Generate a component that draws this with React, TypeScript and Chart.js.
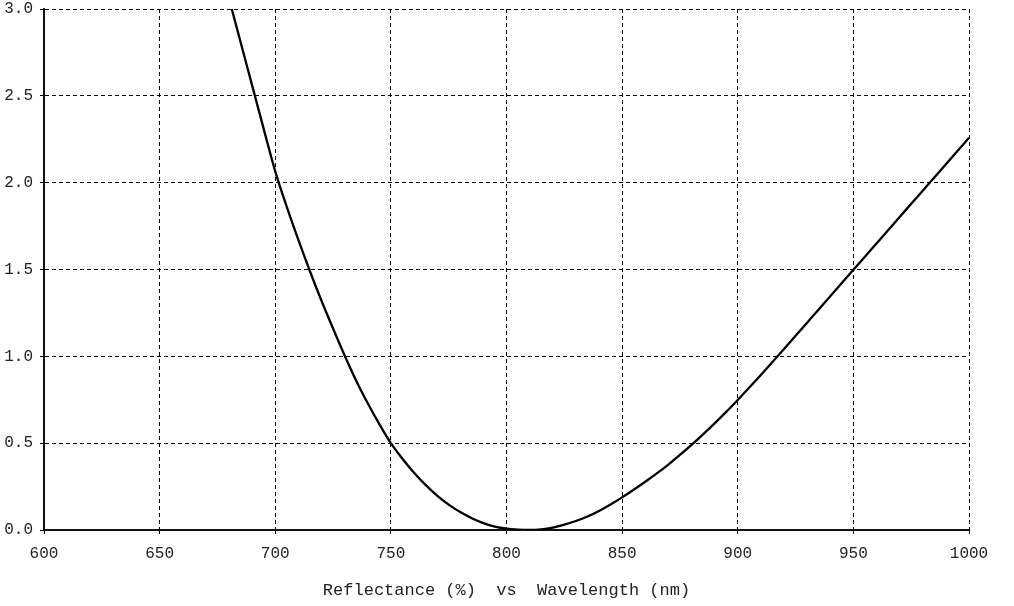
import React, { useEffect, useRef } from "react";
import { Chart, registerables } from "chart.js";

Chart.register(...registerables);

const wavelengths = [
  680, 685, 690, 695, 700, 705, 710, 715, 720, 725, 730, 735, 740, 745, 750,
  755, 760, 765, 770, 775, 780, 785, 790, 795, 800, 805, 810, 815, 820, 825,
  830, 835, 840, 845, 850, 855, 860, 865, 870, 875, 880, 885, 890, 895, 900,
  905, 910, 915, 920, 925, 930, 935, 940, 945, 950, 955, 960, 965, 970, 975,
  980, 985, 990, 995, 1000,
];

const reflectance = [
  3.06, 2.81, 2.56, 2.31, 2.065, 1.86, 1.67, 1.49, 1.32, 1.16, 1.005, 0.86,
  0.73, 0.61, 0.5, 0.41, 0.33, 0.26, 0.198, 0.146, 0.103, 0.068, 0.04, 0.02,
  0.008, 0.002, 0.0, 0.004, 0.014, 0.031, 0.052, 0.078, 0.11, 0.147, 0.188,
  0.232, 0.278, 0.326, 0.377, 0.432, 0.49, 0.551, 0.614, 0.68, 0.749, 0.82,
  0.893, 0.967, 1.042, 1.118, 1.194, 1.27, 1.346, 1.422, 1.498, 1.574, 1.65,
  1.726, 1.802, 1.878, 1.954, 2.03, 2.106, 2.182, 2.258,
];

const xTitle = "Reflectance (%)  vs  Wavelength (nm)";
const xMin = 600;
const xMax = 1000;
const xStep = 50;
const yMin = 0;
const yMax = 3;
const yStep = 0.5;

const FONT = "'Courier New', 'Liberation Mono', monospace";

export default function App() {
  const ref = useRef<HTMLCanvasElement | null>(null);

  useEffect(() => {
    document.body.style.margin = "0";
    const canvas = ref.current;
    if (!canvas) return;
    const chart = new Chart(canvas, {
      type: "line",
      data: {
        datasets: [
          {
            data: wavelengths.map((w, i) => ({ x: w, y: reflectance[i] })),
            borderColor: "#000",
            borderWidth: 2.3,
            pointRadius: 0,
            cubicInterpolationMode: "monotone",
            fill: false,
            clip: 0,
          },
        ],
      },
      options: {
        animation: false,
        responsive: false,
        maintainAspectRatio: false,
        layout: { padding: { top: 9, right: 45, left: 0, bottom: 0 } },
        plugins: { legend: { display: false }, tooltip: { enabled: false } },
        scales: {
          x: {
            type: "linear",
            min: xMin,
            max: xMax,
            afterFit: (s: any) => {
              s.height = 76;
            },
            ticks: {
              stepSize: xStep,
              autoSkip: false,
              maxRotation: 0,
              color: "#222",
              padding: 11,
              font: { family: FONT, size: 16, lineHeight: 1.1 },
              callback: (v: any) => String(v),
            },
            grid: {
              color: "#000",
              lineWidth: 1,
              tickLength: 4,
              tickColor: "#000",
              tickBorderDash: [],
            },
            border: { display: true, color: "#111", width: 2, dash: [4, 3] },
            title: {
              display: true,
              text: xTitle,
              color: "#222",
              font: { family: FONT, size: 17, lineHeight: 1.2 },
              padding: { top: 0, bottom: 5 },
            },
          },
          y: {
            type: "linear",
            min: yMin,
            max: yMax,
            afterFit: (s: any) => {
              s.width = 44;
              s.paddingTop = 0;
              s.paddingBottom = 0;
            },
            ticks: {
              stepSize: yStep,
              color: "#222",
              padding: 7,
              font: { family: FONT, size: 16, lineHeight: 0.1 },
              callback: (v: any) => Number(v).toFixed(1),
            },
            grid: {
              color: "#000",
              lineWidth: 1,
              tickLength: 4,
              tickColor: "#000",
              tickBorderDash: [],
            },
            border: { display: true, color: "#111", width: 2, dash: [4, 3] },
          },
        },
      },
    });
    return () => chart.destroy();
  }, []);

  return (
    <div style={{ position: "absolute", left: 0, top: 0, width: 1014, height: 606, background: "#fff" }}>
      <canvas ref={ref} width={1014} height={606} style={{ width: 1014, height: 606 }} />
    </div>
  );
}
